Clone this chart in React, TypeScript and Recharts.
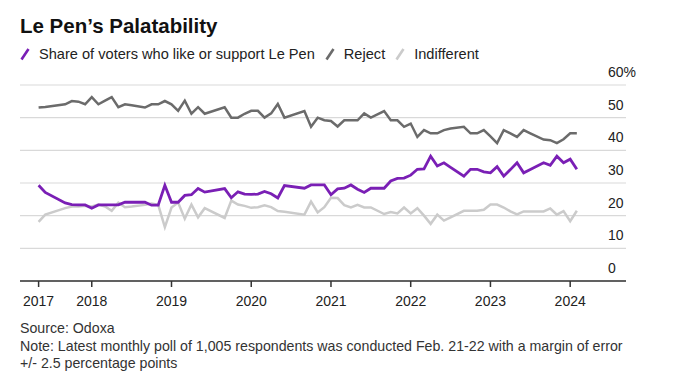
import { CartesianGrid, Line, LineChart, XAxis, YAxis } from 'recharts'

const DATES = [
  '2017-05', '2017-06', '2017-09', '2017-10', '2017-11', '2017-12',
  '2018-01', '2018-02', '2018-03', '2018-04', '2018-05', '2018-06', '2018-07', '2018-09', '2018-10', '2018-11', '2018-12',
  '2019-01', '2019-02', '2019-03', '2019-04', '2019-05', '2019-06', '2019-09', '2019-10', '2019-11', '2019-12',
  '2020-01', '2020-02', '2020-03', '2020-04', '2020-05', '2020-06', '2020-09', '2020-10', '2020-11', '2020-12',
  '2021-01', '2021-02', '2021-03', '2021-04', '2021-05', '2021-06', '2021-07', '2021-09', '2021-10', '2021-11', '2021-12',
  '2022-01', '2022-02', '2022-03', '2022-04', '2022-05', '2022-06', '2022-07', '2022-09', '2022-10', '2022-11', '2022-12',
  '2023-01', '2023-02', '2023-03', '2023-04', '2023-05', '2023-06', '2023-07', '2023-09', '2023-10', '2023-11', '2023-12',
  '2024-01', '2024-02',
]

// share of voters who like or support Le Pen
const LIKE = [
  29.3, 27.1, 23.9, 23.4, 23.3, 23.3,
  22.3, 23.3, 23.3, 23.3, 23.3, 24.1, 24.1, 24.1, 23.2, 23.2, 29.3,
  24.1, 24.1, 26.2, 26.4, 28.3, 27.2, 28.3, 25.5, 27.3, 26.6,
  26.5, 26.6, 27.4, 26.7, 25.4, 29.2, 28.4, 29.4, 29.4, 29.4,
  26.4, 28.2, 28.4, 29.4, 28.1, 27.1, 28.4, 28.4, 30.6, 31.4, 31.5,
  32.4, 34.2, 34.3, 38.2, 35.2, 36.2, 34.8, 32.1, 34.2, 34.2, 33.4,
  33.1, 35.0, 32.1, 34.1, 36.2, 33.1, 34.1, 36.2, 35.4, 38.2, 36.2,
  37.3, 34.2,
]

const REJECT = [
  53.1, 53.3, 54.1, 55.1, 54.9, 54.1,
  56.3, 54.1, 55.2, 56.3, 53.2, 54.1, 53.8, 53.1, 54.1, 54.1, 55.1,
  54.1, 52.1, 55.2, 51.2, 53.2, 51.2, 53.2, 50.0, 50.0, 51.2,
  52.1, 52.1, 50.0, 51.3, 54.2, 50.0, 52.0, 47.2, 50.0, 49.2,
  49.0, 47.3, 49.2, 49.2, 49.2, 51.3, 50.0, 52.0, 49.2, 49.2, 47.2,
  48.2, 44.1, 46.2, 45.2, 45.2, 46.2, 46.7, 47.2, 45.2, 45.2, 46.2,
  44.3, 42.2, 46.2, 45.2, 44.1, 46.2, 45.2, 43.3, 43.1, 42.2, 43.4,
  45.2, 45.2,
]

const INDIFFERENT = [
  18.1, 20.3, 22.3, 22.8, 22.8, 23.0,
  22.8, 23.4, 22.8, 21.5, 24.0, 22.6, 22.8, 23.3, 23.7, 23.3, 16.5,
  22.5, 24.0, 19.1, 23.4, 19.5, 22.3, 19.3, 24.6, 23.4, 23.0,
  22.4, 22.6, 23.2, 22.6, 21.4, 21.2, 20.3, 24.3, 21.0, 22.6,
  25.5, 25.4, 23.2, 22.5, 23.3, 22.5, 22.5, 20.5, 21.1, 20.7, 22.5,
  20.7, 22.3, 20.0, 17.5, 20.3, 18.5, 19.5, 21.5, 21.5, 21.5, 21.8,
  23.4, 23.4, 22.5, 21.3, 20.4, 21.3, 21.3, 21.3, 22.2, 20.3, 21.4,
  18.3, 21.5,
]

const X_TICKS = [2017 + 4 / 12, 2018, 2019, 2020, 2021, 2022, 2023, 2024]
const Y_TICKS = [0, 10, 20, 30, 40, 50, 60]

const PURPLE = '#7a1fb5'
const DARK_GRAY = '#6b6b6b'
const LIGHT_GRAY = '#cbcbcb'
const FONT = '"Liberation Sans", Arial, sans-serif'

const toYear = (d: string) => {
  const [y, m] = d.split('-').map(Number)
  return y + (m - 1) / 12
}

const data = DATES.map((d, i) => ({
  t: toYear(d),
  like: LIKE[i],
  reject: REJECT[i],
  indifferent: INDIFFERENT[i],
}))

const YTick = ({ x, y, payload }: any) => (
  <text x={x - 18} y={y - 8} textAnchor="start" fontSize={14} fill="#222" fontFamily={FONT}>
    {payload.value === 60 ? '60%' : payload.value}
  </text>
)

const Slash = ({ color }: { color: string }) => (
  <svg width={10} height={14} style={{ display: 'block' }}>
    <line x1={1.5} y1={12.5} x2={8.5} y2={2} stroke={color} strokeWidth={2.6} />
  </svg>
)

const legendItems = [
  { label: 'Share of voters who like or support Le Pen', color: PURPLE },
  { label: 'Reject', color: DARK_GRAY },
  { label: 'Indifferent', color: LIGHT_GRAY },
]

export default function App() {
  return (
    <div
      style={{
        position: 'absolute',
        left: 0,
        top: 0,
        width: 676,
        height: 386,
        background: '#fff',
        fontFamily: FONT,
        color: '#111',
      }}
    >
      <LineChart
        width={676}
        height={330}
        data={data}
        margin={{ top: 85, right: 0, left: 20, bottom: 19 }}
        style={{ position: 'absolute', left: 0, top: 0 }}
      >
        <CartesianGrid vertical={false} stroke="#d9d9d9" strokeWidth={1.2} />
        <XAxis
          dataKey="t"
          type="number"
          domain={[2017.1, 2024.7]}
          ticks={X_TICKS}
          tickFormatter={(v: number) => String(Math.floor(v + 0.001))}
          stroke="#333"
          strokeWidth={1.5}
          tickSize={6}
          tickMargin={9}
          height={30}
          tick={{ fill: '#222', fontSize: 14, fontFamily: FONT }}
        />
        <YAxis
          orientation="right"
          domain={[0, 60]}
          ticks={Y_TICKS}
          width={50}
          axisLine={false}
          tickLine={false}
          tickSize={0}
          tickMargin={0}
          tick={<YTick />}
        />
        <Line
          type="linear"
          dataKey="indifferent"
          stroke={LIGHT_GRAY}
          strokeWidth={2.5}
          dot={false}
          isAnimationActive={false}
        />
        <Line
          type="linear"
          dataKey="reject"
          stroke={DARK_GRAY}
          strokeWidth={2.5}
          dot={false}
          isAnimationActive={false}
        />
        <Line
          type="linear"
          dataKey="like"
          stroke={PURPLE}
          strokeWidth={2.8}
          dot={false}
          isAnimationActive={false}
        />
      </LineChart>

      <div
        style={{
          position: 'absolute',
          left: 20,
          top: 14,
          fontSize: 20.5,
          lineHeight: '24px',
          fontWeight: 'bold',
          letterSpacing: 0,
        }}
      >
        Le Pen’s Palatability
      </div>

      <div
        style={{
          position: 'absolute',
          left: 20,
          top: 45,
          display: 'flex',
          alignItems: 'center',
          fontSize: 14.6,
          lineHeight: '18px',
          color: '#222',
        }}
      >
        {legendItems.map((item, i) => (
          <div key={item.label} style={{ display: 'flex', alignItems: 'center', marginLeft: i === 0 ? 0 : 10 }}>
            <Slash color={item.color} />
            <span style={{ marginLeft: 9 }}>{item.label}</span>
          </div>
        ))}
      </div>

      <div
        style={{
          position: 'absolute',
          left: 20,
          top: 320,
          fontSize: 14.2,
          lineHeight: '17.5px',
          color: '#333',
          whiteSpace: 'nowrap',
        }}
      >
        <div>Source: Odoxa</div>
        <div>Note: Latest monthly poll of 1,005 respondents was conducted Feb. 21-22 with a margin of error</div>
        <div>+/- 2.5 percentage points</div>
      </div>
    </div>
  )
}
